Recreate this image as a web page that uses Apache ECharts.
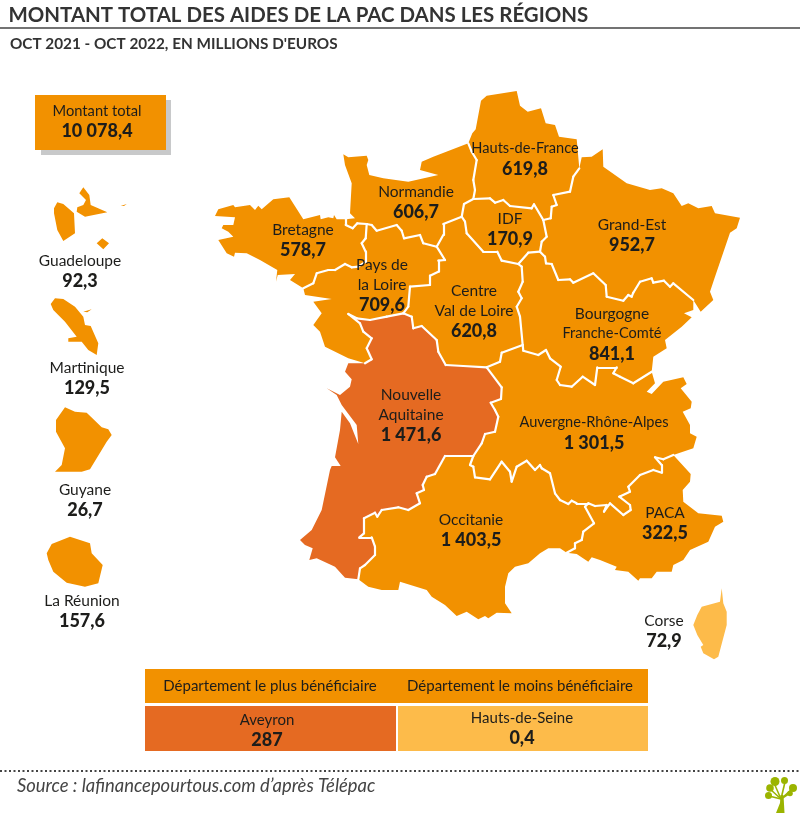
<!DOCTYPE html>
<html>
<head>
<meta charset="utf-8">
<title>Aides de la PAC</title>
<script src="https://cdn.jsdelivr.net/npm/echarts@6/dist/echarts.min.js"></script>
<style>
  html, body { margin: 0; padding: 0; background: #fff; }
  #chart { width: 800px; height: 813px; }
</style>
</head>
<body>
<div id="chart"></div>
<script>
// values in millions of euros
const regionNames = ["Bretagne", "Normandie", "Hauts-de-France", "IDF", "Grand-Est", "Pays de la Loire", "Centre Val de Loire", "Bourgogne Franche-Comté", "Nouvelle Aquitaine", "Auvergne-Rhône-Alpes", "Occitanie", "PACA", "Corse", "Guadeloupe", "Martinique", "Guyane", "La Réunion"];
const regionValues = [578.7, 606.7, 619.8, 170.9, 952.7, 709.6, 620.8, 841.1, 1471.6, 1301.5, 1403.5, 322.5, 72.9, 92.3, 129.5, 26.7, 157.6];
const regionLines = ["Bretagne", "Normandie", "Hauts-de-France", "IDF", "Grand-Est", "Pays de\nla Loire", "Centre\nVal de Loire", "Bourgogne\nFranche-Comté", "Nouvelle\nAquitaine", "Auvergne-Rhône-Alpes", "Occitanie", "PACA", "Corse", "Guadeloupe", "Martinique", "Guyane", "La Réunion"];
const regionColors = ["#f29100", "#f29100", "#f29100", "#f29100", "#f29100", "#f29100", "#f29100", "#f29100", "#e56a22", "#f29100", "#f29100", "#f29100", "#fdbb4a", "#f29100", "#f29100", "#f29100", "#f29100"];
const totalLabel = "Montant total";
const totalValue = 10078.4;
const tableHeads = ["Département le plus bénéficiaire", "Département le moins bénéficiaire"];
const tableNames = ["Aveyron", "Hauts-de-Seine"];
const tableValues = [287, 0.4];

// outlines, in page pixels, y pointing down
const shapes = {
  "Bretagne": [[[215,216],[218.3,209.3],[233.3,205],[235,207.3],[250,205],[255,210],[258.3,205.7],[261.7,209.3],[273.3,199.3],[289.3,197.3],[303.3,219.3],[320,215],[320.7,219.3],[328.3,217.3],[333.3,218.3],[334,215],[336.7,219.3],[345.7,219.3],[345.7,225],[352.7,228.3],[357.3,223.3],[366.7,224],[365.7,238.3],[361.7,243.3],[365.7,251.7],[365.7,261.7],[358.3,266.7],[351.7,267.3],[345,264],[335,270],[328.3,270],[316.7,273.3],[313.3,283.3],[303.3,288.3],[290,280],[295,274],[277.7,275],[276,281.7],[277.3,270],[260,260],[246.7,253.3],[235,252.7],[234,256.7],[226.7,253.3],[218.3,240],[233.3,236.7],[228.3,231.7],[221.7,228.3],[223.3,225],[233.3,225],[235,217.3]]],
  "Normandie": [[[343.3,154.3],[348.3,157.3],[366.7,155.7],[368.3,160],[366.7,165],[369.3,175],[383.3,178.3],[408.3,181.7],[438.3,175],[420,170],[421.7,161.7],[433.3,156.7],[468.3,143.3],[471.7,151.7],[476.7,160],[473.3,180],[475,190],[473.3,199],[464,204],[461.7,216.7],[443.3,224],[443.3,235],[436.7,246.7],[423.3,243.3],[420,235],[404,238.3],[401.7,230.7],[396.7,225],[376.7,230.7],[371.7,225],[366.7,224],[357.3,223.3],[352.7,228.3],[345.7,225],[345.7,219.3],[355,218.3],[350,213.3],[351.7,183.3],[345,165]]],
  "Hauts-de-France": [[[472.3,133.3],[475.7,129.3],[481,100.7],[486.7,95.7],[516.7,91],[520,105.7],[527.7,111.7],[541,108.3],[545.7,123.3],[555,125],[559,136.7],[576.7,139.3],[579.3,168.3],[573.3,176.7],[570,191.7],[553.3,195],[556.7,205],[551.7,206.7],[550.7,218.3],[543.3,220],[534,204.3],[531.7,208.3],[510,206],[503.3,200],[495,202.7],[490,198.3],[473.3,199],[475,190],[473.3,180],[476.7,160],[471.7,151.7],[468.3,143.3]]],
  "IDF": [[[464,204],[473.3,199],[490,198.3],[495,202.7],[503.3,200],[510,206],[531.7,208.3],[534,204.3],[543.3,220],[546.7,236.7],[541.7,241.7],[540,251.7],[528.3,252.7],[518.3,264],[501.7,260.7],[497.3,251.7],[483.3,251.7],[466.7,233.3],[465,221.7],[461.7,216.7]]],
  "Grand-Est": [[[581.7,157.3],[591.7,156.7],[602.7,149.3],[603.3,166.7],[626.7,183.3],[650,190],[661.7,188.3],[673.3,193.3],[681.7,206],[688.3,203.3],[698.3,208.3],[711.7,206],[715,213.3],[740,217.7],[736.7,228.3],[730,232.7],[715,276.7],[710,291.7],[713.3,300],[700.7,311.7],[693.3,300],[673.3,283.3],[670,286.7],[664,280.7],[653.3,282.7],[651.7,278.3],[640,281.7],[633.3,292.7],[631.7,296.7],[628.3,295],[623.3,300.7],[606.7,296.7],[605.7,285],[593.3,273.3],[573.3,282.7],[570,279.3],[558.3,280],[551.7,264],[546,263.3],[545,256.7],[540,251.7],[541.7,241.7],[546.7,236.7],[543.3,220],[550.7,218.3],[551.7,206.7],[556.7,205],[553.3,195],[570,191.7],[573.3,176.7],[579.3,168.3]]],
  "Pays de la Loire": [[[366.7,224],[371.7,225],[376.7,230.7],[396.7,225],[401.7,230.7],[404,238.3],[420,235],[423.3,243.3],[436.7,246.7],[445,260],[438.3,260.7],[438.3,271.7],[430,275.7],[430,285],[410,286.7],[408.3,306.7],[403.3,313.3],[386.7,316.7],[370,320],[356.7,318.3],[348.3,314],[360,323.3],[363.3,331.7],[371.7,338.3],[366.7,348.3],[371.7,359.3],[365,363.3],[348.3,358.3],[325,346.7],[320,331.7],[313.3,325],[321.7,313.3],[313.3,301.7],[331.7,299],[305,295],[303.3,288.3],[313.3,283.3],[316.7,273.3],[328.3,270],[335,270],[345,264],[351.7,267.3],[358.3,266.7],[365.7,261.7],[365.7,251.7],[361.7,243.3],[365.7,238.3]]],
  "Centre Val de Loire": [[[436.7,246.7],[443.3,235],[443.3,224],[461.7,216.7],[465,221.7],[466.7,233.3],[483.3,251.7],[497.3,251.7],[501.7,260.7],[518.3,264],[521.7,266.7],[522.7,281.7],[518.3,291.7],[521.7,298.3],[516.7,306.7],[520,316.7],[522.7,345],[501.7,352.7],[500,361.7],[486.7,367.3],[463.3,366],[445.7,365],[438.3,351.7],[436.7,340],[421.7,326],[413.3,328.3],[411.7,316.7],[403.3,313.3],[408.3,306.7],[410,286.7],[430,285],[430,275.7],[438.3,271.7],[438.3,260.7],[445,260]]],
  "Bourgogne Franche-Comté": [[[518.3,264],[528.3,252.7],[540,251.7],[545,256.7],[546,263.3],[551.7,264],[558.3,280],[570,279.3],[573.3,282.7],[593.3,273.3],[605.7,285],[606.7,296.7],[623.3,300.7],[628.3,295],[631.7,296.7],[633.3,292.7],[640,281.7],[651.7,278.3],[653.3,282.7],[664,280.7],[670,286.7],[673.3,283.3],[693.3,300],[693.3,310],[684,313.3],[691.7,317.3],[681.7,326.7],[665,340],[666.7,348.3],[653.3,356.7],[651.7,371.7],[633.3,383.3],[620,376.7],[613.3,373.3],[616.7,367.3],[597.3,367.3],[595,385],[582.7,376.7],[571.7,386.7],[560,385],[556.7,380],[560.7,366.7],[550,358.3],[546,350],[538.3,355],[523.3,350.7],[522.7,345],[520,316.7],[516.7,306.7],[521.7,298.3],[518.3,291.7],[522.7,281.7],[521.7,266.7]]],
  "Nouvelle Aquitaine": [[[348.3,314],[356.7,318.3],[370,320],[386.7,316.7],[403.3,313.3],[411.7,316.7],[413.3,328.3],[421.7,326],[436.7,340],[438.3,351.7],[445.7,365],[463.3,366],[486.7,367.3],[501.7,387.3],[501,399],[490.7,402.7],[495,410],[498.3,416.7],[495,431.7],[485,434],[481.7,443.3],[473.3,456],[445,456],[435,474],[426.7,476.7],[422.7,485],[424,490],[416.7,493.3],[420,503.3],[408.3,510],[398.3,507.3],[381.7,510],[377.3,516.7],[375,512.7],[364,518.3],[364,533.3],[359.3,537.3],[371.7,537.3],[375,546.7],[375,555],[365,565],[360,568.3],[358.3,579.3],[345,577.7],[335,566.7],[316.7,558.3],[309.3,560],[312.7,548.3],[305,545],[300,540],[311.7,530],[321.7,510],[330,470],[331.7,466],[340.7,466],[335,457.3],[340,430],[341.7,411.7],[350,423.3],[358.3,444],[356.7,425],[341.7,405],[336.7,395],[326.7,388.3],[340,395],[350,386.7],[351.7,379.3],[345,371.7],[348.3,363.3],[365,363.3],[371.7,359.3],[366.7,348.3],[371.7,338.3],[363.3,331.7],[360,323.3]]],
  "Auvergne-Rhône-Alpes": [[[486.7,367.3],[500,361.7],[501.7,352.7],[522.7,345],[523.3,350.7],[538.3,355],[546,350],[550,358.3],[560.7,366.7],[556.7,380],[560,385],[571.7,386.7],[582.7,376.7],[595,385],[597.3,367.3],[616.7,367.3],[613.3,373.3],[620,376.7],[633.3,383.3],[651.7,371.7],[655,383.3],[646.7,391.7],[651.7,394],[663.3,381.7],[683.3,377.3],[686.7,384],[680.7,388.3],[691.7,401.7],[690.7,408.3],[682.7,411.7],[690,425],[690,433.3],[696.7,436.7],[693.3,448.3],[673.3,455],[663.3,459.3],[655,457.3],[661.7,465],[661.7,472.7],[653.3,470],[640,475],[628.3,486.7],[630,491.7],[619.3,496.7],[630,505],[630.7,510],[623.3,515],[610,503.3],[604,511.7],[606.7,505],[595,506],[588.3,503.3],[576.7,503.3],[571.7,500.7],[568.3,504],[560,500],[555,493.3],[550,473.3],[541.7,468.3],[540,465],[535,470],[526.7,460.7],[516.7,466.7],[511.7,481.7],[510,471.7],[501.7,461.7],[490,479.3],[475,477.3],[473.3,466.7],[470,465],[473.3,456],[481.7,443.3],[485,434],[495,431.7],[498.3,416.7],[495,410],[490.7,402.7],[501,399],[501.7,387.3]]],
  "Occitanie": [[[445,456],[473.3,456],[470,465],[473.3,466.7],[475,477.3],[490,479.3],[501.7,461.7],[510,471.7],[511.7,481.7],[516.7,466.7],[526.7,460.7],[535,470],[540,465],[541.7,468.3],[550,473.3],[555,493.3],[560,500],[568.3,504],[571.7,500.7],[576.7,503.3],[588.3,503.3],[585,506.7],[594,523.3],[583.3,531.7],[581.7,540],[575,543.3],[575,548.3],[566.7,552.7],[560,548.3],[548.3,548.3],[540,553.3],[528.3,563.3],[515,566.7],[508.3,573.3],[505,586.7],[505,603.3],[511.7,613.3],[496.7,612.7],[488.3,618.3],[485,616],[478.3,619.3],[466.7,611.7],[456.7,616],[445,605],[431.7,596.7],[426.7,590],[400,581.7],[398.3,590],[381.7,590],[368.3,586.7],[358.3,579.3],[360,568.3],[365,565],[375,555],[375,546.7],[371.7,537.3],[359.3,537.3],[364,533.3],[364,518.3],[375,512.7],[377.3,516.7],[381.7,510],[398.3,507.3],[408.3,510],[420,503.3],[416.7,493.3],[424,490],[422.7,485],[426.7,476.7],[435,474]]],
  "PACA": [[[655,457.3],[663.3,459.3],[673.3,455],[690.7,474],[690,481.7],[682.7,490],[683.3,501.7],[698.3,513.3],[721.7,515.7],[723.3,521.7],[715,526.7],[708.3,541.7],[690,550],[683.3,560],[673.3,565],[671.7,571.7],[656.7,571.7],[651.7,578.3],[640,578.3],[638.3,580.7],[628.3,571.7],[615,570],[616.7,566.7],[600,560],[591.7,557.3],[588.3,561.7],[576.7,554],[566.7,552.7],[575,548.3],[575,543.3],[581.7,540],[583.3,531.7],[594,523.3],[585,506.7],[588.3,503.3],[595,506],[606.7,505],[604,511.7],[610,503.3],[623.3,515],[630.7,510],[630,505],[619.3,496.7],[630,491.7],[628.3,486.7],[640,475],[653.3,470],[661.7,472.7],[661.7,465]]],
  "Corse": [[[721.7,588.3],[723.3,603.3],[726.7,611.7],[726.7,625],[718.3,656.7],[714,659.3],[703.3,653.3],[700.7,646.7],[703.3,645],[697.3,635],[693.3,625],[697.3,615],[701.7,606.7],[720,601.7]]],
  "Guadeloupe": [
    [[54,208.3],[57.3,202.3],[63.3,204],[74,213.3],[75,233.3],[63.3,241],[57.3,230],[54,213.3]],
    [[83.3,187.3],[89.3,195],[90.7,205],[107.3,212.3],[85,216.7],[76.7,211.7],[77.3,207.3],[83.3,205],[86,200],[79.3,193.3]],
    [[96.7,243.3],[102.3,238.3],[109,243.3],[103.3,249.3]],
    [[120.7,206],[126.7,204],[124,206]]
  ],
  "Martinique": [
    [[50.7,304],[55,298.3],[63.3,299],[75,306.7],[83.3,316.7],[85,325],[90.7,326],[98.3,343.3],[96.7,355],[88.3,350],[81.7,341.7],[68.3,341.7],[68.3,338.3],[76.7,336.7],[65,321.7],[53.3,310]],
    [[83.3,311.7],[91.7,309.3],[87.3,312.3]]
  ],
  "Guyane": [[[65,407.3],[75,411.7],[86.7,412.7],[101.7,427.3],[108.3,429.3],[111.7,435],[106.7,441.7],[90,469.3],[81.7,471.7],[55,471.7],[61.7,465],[65,448.3],[56,431.7],[56,420]]],
  "La Réunion": [[[46.7,553.3],[51.7,544],[70,536.7],[90,543.3],[91.7,553.3],[102.7,565],[98.3,583.3],[85,586.7],[66.7,582.7],[53.3,571.7],[48.3,560]]]
};
// where each label block is centred
const labelCentres = [[303,240],[416,202],[525,159],[510,229],[632,235],[382,285],[474,311],[612,334],[411,415],[594,433],[471,530],[665,523],[664,631],[80,271],[87,378],[85,500],[82,611]];

const ink = "#1d1d1b";
const fontName = "Lato";

function fmt(v) {
  let s = Number.isInteger(v) ? String(v) : v.toFixed(1);
  let parts = s.split(".");
  let whole = parts[0].replace(/\B(?=(\d{3})+$)/g, " ");
  return parts[1] ? whole + "," + parts[1] : whole;
}

const features = regionNames.map((name) => ({
  type: "Feature",
  properties: { name: name },
  geometry: {
    type: "MultiPolygon",
    coordinates: shapes[name].map((ring) => [ring.map((p) => [p[0], -p[1]])])
  }
}));
echarts.registerMap("france", { type: "FeatureCollection", features: features });

// an edge found in two regions is an inner border, the coast gets no white line
const edgeCount = {};
regionNames.forEach((name) => {
  shapes[name].forEach((ring) => {
    ring.forEach((p, i) => {
      const q = ring[(i + 1) % ring.length];
      const key = [p.join(), q.join()].sort().join("|");
      edgeCount[key] = edgeCount[key] || { n: 0, coords: [[p[0], -p[1]], [q[0], -q[1]]] };
      edgeCount[key].n++;
    });
  });
});
const innerBorders = Object.values(edgeCount).filter((e) => e.n > 1).map((e) => ({ coords: e.coords }));

function boxText(x, y, txt, size, weight) {
  return {
    type: "text", x: x, y: y, z: 10,
    style: { text: txt, fill: ink, font: weight + " " + size + "px " + fontName, align: "center", verticalAlign: "middle" }
  };
}
function box(x, y, w, h, color) {
  return { type: "rect", shape: { x: x, y: y, width: w, height: h }, style: { fill: color } };
}
function blob(x, y, r) {
  return { type: "circle", shape: { cx: x, cy: y, r: r }, style: { fill: "#9bb400" } };
}
function twig(x, y) {
  return { type: "line", shape: { x1: 781, y1: 799, x2: x, y2: y }, style: { stroke: "#9bb400", lineWidth: 1.6 } };
}

const graphics = [
  { type: "text", x: 8.5, y: 15, style: { text: "MONTANT TOTAL DES AIDES DE LA PAC DANS LES RÉGIONS", fill: "#333", font: "700 20.45px " + fontName, verticalAlign: "middle" } },
  { type: "line", shape: { x1: 0, y1: 28, x2: 800, y2: 28 }, style: { stroke: "#444", lineWidth: 1.5 } },
  { type: "text", x: 10, y: 44, style: { text: "OCT 2021 - OCT 2022, EN MILLIONS D'EUROS", fill: "#333", font: "700 15.3px " + fontName, verticalAlign: "middle" } },
  box(41, 100, 130, 55, "#c8c9ca"),
  box(35, 95, 131, 55, "#f29100"),
  boxText(97, 111, totalLabel, 14.7, 400),
  boxText(97, 131, fmt(totalValue), 18, 900),
  box(145, 669, 503, 34, "#f29100"),
  box(145, 706, 251, 45, "#e56a22"),
  box(398, 706, 250, 45, "#fdbb4a"),
  boxText(270, 686, tableHeads[0], 15, 400),
  boxText(520, 686, tableHeads[1], 15, 400),
  boxText(267, 720, tableNames[0], 15, 400),
  boxText(267, 740, fmt(tableValues[0]), 18, 900),
  boxText(522, 718, tableNames[1], 15, 400),
  boxText(522, 738, fmt(tableValues[1]), 18, 900),
  { type: "line", shape: { x1: 0, y1: 771, x2: 800, y2: 771 }, style: { stroke: "#444", lineWidth: 2, lineDash: [2, 2.5] } },
  { type: "text", x: 17, y: 786, style: { text: "Source : lafinancepourtous.com d’après Télépac", fill: "#444", font: "italic 400 18.4px " + fontName, verticalAlign: "middle" } },
  { type: "polygon", shape: { points: [[776, 813], [780, 803], [780.5, 795], [783.5, 795], [784.5, 813]] }, style: { fill: "#9bb400" } },
  twig(774, 783), twig(770, 789), twig(769, 796), twig(785, 782), twig(793, 788), twig(790, 793),
  blob(775, 781.5, 4.5), blob(770, 788, 3.8), blob(768.5, 795.5, 3.5), blob(784.5, 780.5, 3.5), blob(793, 788, 4), blob(790, 793.5, 2.8)
];

const layout = {
  left: 0,
  top: 0,
  width: 800,
  height: 813,
  aspectScale: 1,
  boundingCoords: [[0, 0], [800, -813]],
  roam: false,
  silent: true
};

const chart = echarts.init(document.getElementById("chart"));
chart.setOption({
  animation: false,
  backgroundColor: "#fff",
  graphic: graphics,
  // invisible geo: the coordinate system of the borders and labels
  geo: Object.assign({
    map: "france",
    itemStyle: { areaColor: "transparent", borderWidth: 0 },
    label: { show: false },
    emphasis: { disabled: true }
  }, layout),
  series: [
    Object.assign({
      type: "map",
      map: "france",
      selectedMode: false,
      showLegendSymbol: false,
      emphasis: { disabled: true },
      itemStyle: { borderWidth: 0 },
      label: { show: false },
      data: regionNames.map((name, i) => ({
        name: name,
        value: regionValues[i],
        itemStyle: { areaColor: regionColors[i] }
      }))
    }, layout),
    {
      type: "lines",
      coordinateSystem: "geo",
      silent: true,
      lineStyle: { color: "#fff", width: 2.2, opacity: 1, cap: "round", curveness: 0 },
      data: innerBorders
    },
    {
      type: "scatter",
      coordinateSystem: "geo",
      silent: true,
      symbolSize: 1,
      itemStyle: { color: "transparent", opacity: 1 },
      label: {
        show: true,
        position: "inside",
        formatter: (p) => {
          const i = p.dataIndex;
          const lines = regionLines[i].split("\n").map((l) => (l.length > 12 ? "{s|" : "{n|") + l + "}");
          return lines.concat("{v|" + fmt(regionValues[i]) + "}").join("\n");
        },
        rich: {
          n: { fontFamily: fontName, fontSize: 15.5, color: ink, lineHeight: 20 },
          s: { fontFamily: fontName, fontSize: 14.6, color: ink, lineHeight: 20 },
          v: { fontFamily: fontName, fontSize: 18, fontWeight: 900, color: ink, lineHeight: 21 }
        }
      },
      data: labelCentres.map((c, i) => ({ name: regionNames[i], value: [c[0], -c[1]] }))
    }
  ]
});
</script>
</body>
</html>
